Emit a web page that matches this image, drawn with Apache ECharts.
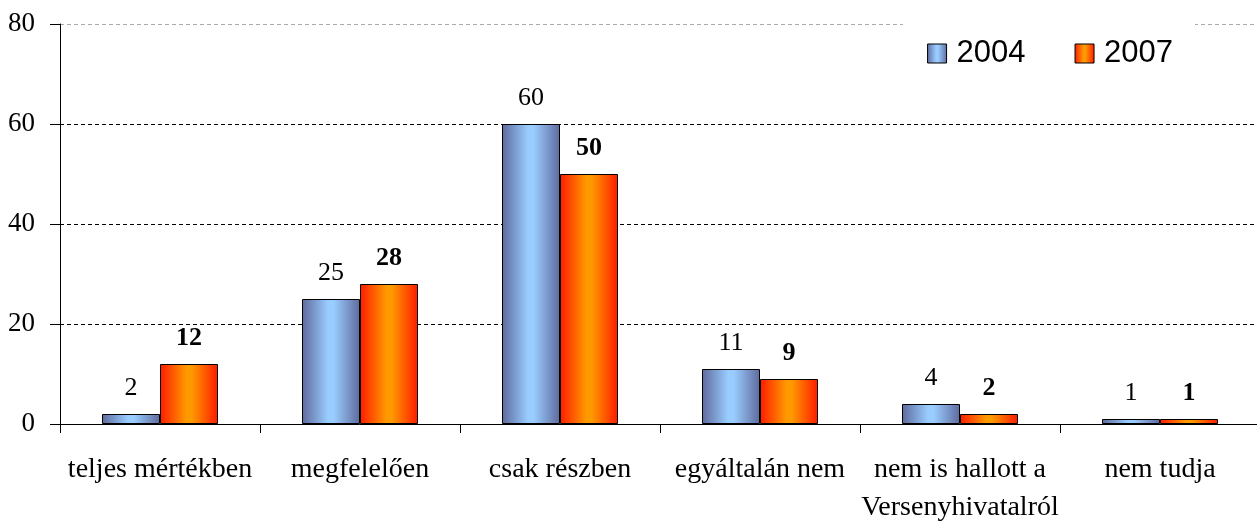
<!DOCTYPE html>
<html>
<head>
<meta charset="utf-8">
<script src="https://cdn.jsdelivr.net/npm/echarts@6/dist/echarts.min.js"></script>
<style>
  html, body { margin: 0; padding: 0; background: #fff; }
  #chart { width: 1257px; height: 524px; }
</style>
</head>
<body>
<div id="chart"></div>
<script>
// data
const categories = [
  "teljes mértékben",
  "megfelelően",
  "csak részben",
  "egyáltalán nem",
  "nem is hallott a\nVersenyhivatalról",
  "nem tudja",
];
const values2004 = [2, 25, 60, 11, 4, 1];
const values2007 = [12, 28, 50, 9, 2, 1];
const yTicks = [0, 20, 40, 60, 80];

const serif = "Liberation Serif";

function barGradient(edge, center) {
  return new echarts.graphic.LinearGradient(0, 0, 1, 0, [
    { offset: 0, color: edge },
    { offset: 0.45, color: center },
    { offset: 0.55, color: center },
    { offset: 1, color: edge },
  ]);
}

const blue = barGradient("#5f6a9c", "#99ccff");
const orange = barGradient("#ff1a00", "#ff9900");

const chart = echarts.init(document.getElementById("chart"));

chart.setOption({
  animation: false,
  grid: {
    left: 60,
    right: -3,
    top: 24,
    bottom: 100,
    containLabel: false,
    outerBoundsMode: "none",
  },
  legend: {
    right: 62,
    top: 20,
    icon: "rect",
    itemWidth: 19,
    itemHeight: 19,
    itemGap: 49,
    backgroundColor: "#fff",
    padding: [18, 22, 12, 24],
    textStyle: { fontFamily: "Liberation Sans", fontSize: 31, color: "#000", padding: [0, 0, 0, 5] },
    data: [
      { name: "2004", itemStyle: { color: blue, borderColor: "#000", borderWidth: 1 } },
      { name: "2007", itemStyle: { color: orange, borderColor: "#000", borderWidth: 1 } },
    ],
  },
  xAxis: {
    type: "category",
    data: categories,
    axisLine: { lineStyle: { color: "#000", width: 1 } },
    axisTick: { show: true, length: 9, inside: false, lineStyle: { color: "#000" } },
    axisLabel: {
      interval: 0,
      margin: 27,
      fontFamily: serif,
      fontSize: 28,
      color: "#000",
      lineHeight: 38,
    },
  },
  yAxis: {
    type: "value",
    min: yTicks[0],
    max: yTicks[yTicks.length - 1],
    interval: 20,
    axisLine: { show: true, lineStyle: { color: "#000", width: 1 } },
    axisTick: { show: true, length: 10, lineStyle: { color: "#000" } },
    axisLabel: {
      margin: 25,
      fontFamily: serif,
      fontSize: 27,
      color: "#000",
    },
    splitLine: {
      show: true,
      lineStyle: {
        type: [4, 3],
        color: ["#000", "#000", "#000", "#000", "#aaa"],
        width: 1,
      },
    },
  },
  series: [
    {
      name: "2004",
      type: "bar",
      data: values2004,
      barGap: "0%",
      barCategoryGap: "42%",
      itemStyle: { color: blue, borderColor: "#000", borderWidth: 1 },
      label: {
        show: true,
        position: "top",
        distance: 13,
        fontFamily: serif,
        fontSize: 26,
        color: "#000",
      },
    },
    {
      name: "2007",
      type: "bar",
      data: values2007,
      itemStyle: { color: orange, borderColor: "#000", borderWidth: 1 },
      label: {
        show: true,
        position: "top",
        distance: 13,
        fontFamily: serif,
        fontSize: 26,
        fontWeight: "bold",
        color: "#000",
      },
    },
  ],
});

window.addEventListener("resize", () => chart.resize());
</script>
</body>
</html>
